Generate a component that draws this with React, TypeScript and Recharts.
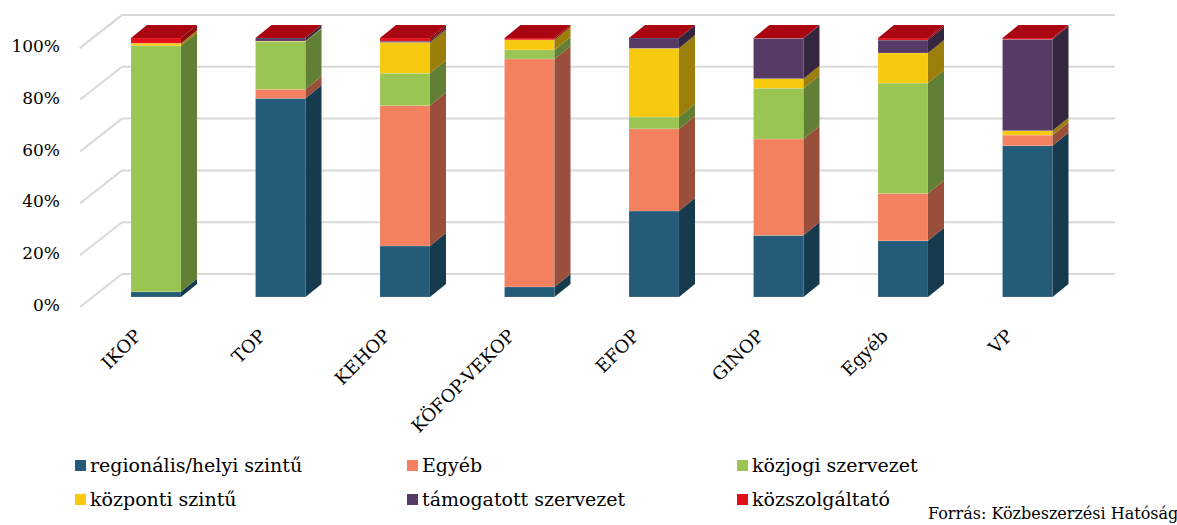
import React from 'react';
import { BarChart, Bar, XAxis, YAxis, CartesianGrid } from 'recharts';

const categories = ['IKOP', 'TOP', 'KEHOP', 'KÖFOP-VEKOP', 'EFOP', 'GINOP', 'Egyéb', 'VP'];

// share of each organisation type per programme (%)
const regionalis = [2, 76.7, 19.7, 3.9, 33.2, 23.8, 21.7, 58.4];
const egyeb = [0, 3.5, 54.2, 88.0, 31.7, 37.2, 18.3, 4.1];
const kozjogi = [95, 18.4, 12.5, 3.5, 4.6, 19.6, 42.6, 0];
const kozponti = [1, 0.2, 11.9, 3.9, 26.5, 3.7, 11.6, 1.7];
const tamogatott = [0, 1.2, 0.5, 0, 4.0, 15.6, 5.0, 35.3];
const kozszolgaltato = [2, 0, 1.2, 0.7, 0, 0.1, 0.8, 0.5];

const yTicks = [0, 20, 40, 60, 80, 100];

const series = [
    { key: 'regionalis', name: 'regionális/helyi szintű', values: regionalis, color: '#245b78', side: '#163a4e' },
    { key: 'egyeb', name: 'Egyéb', values: egyeb, color: '#f3805f', side: '#9a4f3b' },
    { key: 'kozjogi', name: 'közjogi szervezet', values: kozjogi, color: '#9bc553', side: '#617f35' },
    { key: 'kozponti', name: 'központi szintű', values: kozponti, color: '#f7c90f', side: '#9c7f0a' },
    { key: 'tamogatott', name: 'támogatott szervezet', values: tamogatott, color: '#553b66', side: '#352640' },
    { key: 'kozszolgaltato', name: 'közszolgáltató', values: kozszolgaltato, color: '#e20f18', side: '#8a0a10' },
];

const chartData = categories.map((cat, i) => {
    const row: any = { cat };
    series.forEach((s) => {
        row[s.key] = s.values[i];
    });
    return row;
});

const FONT = '"DejaVu Serif", "Liberation Serif", serif';
const DX = 16;
const DY = -13;
const TOP_FACE = '#a90612';

const makeShape = (color: string, side: string, isTop: boolean) => (props: any) => {
    const { x, y, width, height } = props;
    const h = Math.max(height || 0, 0);
    return (
        <g>
            {h > 0 && (
                <>
                    <rect x={x} y={y} width={width} height={h} fill={color} stroke="rgba(255,255,255,0.25)" strokeWidth={0.6} />
                    <polygon
                        points={`${x + width},${y} ${x + width + DX},${y + DY} ${x + width + DX},${y + h + DY} ${x + width},${y + h}`}
                        fill={side}
                    />
                </>
            )}
            {isTop && (
                <polygon
                    points={`${x},${y} ${x + DX},${y + DY} ${x + width + DX},${y + DY} ${x + width},${y}`}
                    fill={TOP_FACE}
                />
            )}
        </g>
    );
};

// back wall line plus the slanted side-wall segment for each tick
const gridLine = (props: any) => {
    const { x1, y1, x2, index } = props;
    return (
        <g key={`grid-${index}`}>
            <line x1={x1 - 14} y1={y1 + 10} x2={x1 + 28} y2={y1 - 23} stroke="#d9d9d9" strokeWidth={2} />
            <line x1={x1 + 28} y1={y1 - 23} x2={x2 + 25} y2={y1 - 23} stroke="#d9d9d9" strokeWidth={2} />
        </g>
    );
};

const YTick = (props: any) => {
    const { y, payload } = props;
    return (
        <text x={60} y={y + 14} textAnchor="end" fontFamily={FONT} fontSize={17} fill="#000">
            {`${payload.value}%`}
        </text>
    );
};

const XTick = (props: any) => {
    const { x, payload } = props;
    const ax = x - 14;
    const ay = 337;
    return (
        <text
            x={ax}
            y={ay}
            textAnchor="end"
            transform={`rotate(-45, ${ax}, ${ay})`}
            fontFamily={FONT}
            fontSize={18}
            fill="#000"
        >
            {payload.value}
        </text>
    );
};

const legendCols = [75, 407, 737];
const legendRows = [454, 488];

const App: React.FC = () => {
    return (
        <div style={{ position: 'absolute', left: 0, top: 0, width: 1177, height: 525, background: '#fff', overflow: 'hidden' }}>
            <BarChart
                width={1177}
                height={525}
                data={chartData}
                margin={{ top: 38, right: 87, bottom: 198, left: 34 }}
                barSize={50}
            >
                <CartesianGrid vertical={false} horizontal={gridLine} />
                <XAxis dataKey="cat" height={30} axisLine={false} tickLine={false} tick={<XTick />} interval={0} />
                <YAxis
                    width={60}
                    domain={[0, 100]}
                    ticks={yTicks}
                    axisLine={false}
                    tickLine={false}
                    tick={<YTick />}
                />
                {series.map((s, i) => (
                    <Bar
                        key={s.key}
                        dataKey={s.key}
                        stackId="a"
                        fill={s.color}
                        isAnimationActive={false}
                        shape={makeShape(s.color, s.side, i === series.length - 1)}
                    />
                ))}
            </BarChart>
            {series.map((s, i) => (
                <div
                    key={s.key}
                    style={{
                        position: 'absolute',
                        left: legendCols[i % 3],
                        top: legendRows[Math.floor(i / 3)],
                        display: 'flex',
                        alignItems: 'center',
                        fontFamily: FONT,
                        fontSize: 19,
                        color: '#000',
                        whiteSpace: 'nowrap',
                    }}
                >
                    <span style={{ display: 'inline-block', width: 11, height: 11, background: s.color, marginRight: 4 }} />
                    {s.name}
                </div>
            ))}
            <div
                style={{
                    position: 'absolute',
                    left: 928,
                    top: 504,
                    fontFamily: FONT,
                    fontSize: 16,
                    color: '#000',
                    whiteSpace: 'nowrap',
                }}
            >
                Forrás: Közbeszerzési Hatóság
            </div>
        </div>
    );
};

export default App;
